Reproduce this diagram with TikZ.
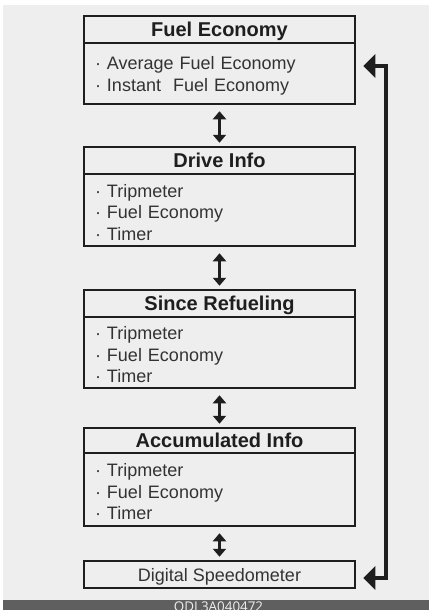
\documentclass[tikz,border=0pt]{standalone}
\usepackage{fontspec}
\setmainfont{Liberation Sans}
\newfontfamily\codigofont{Open Sans}
\usetikzlibrary{arrows.meta}
\definecolor{fundo}{HTML}{EEEEEE}
\definecolor{faixa}{HTML}{5F5F5F}
\definecolor{traco}{HTML}{1E1E1E}
\definecolor{texto}{HTML}{333333}

\begin{document}
\begin{tikzpicture}[x=1pt,y=-1pt,
  titulo/.style={draw=traco, line width=2.5pt, minimum width=271pt, inner sep=0pt,
    font=\bfseries\fontsize{20}{24}\selectfont, text=traco, text height=14.5pt, text depth=0pt},
  itens/.style={draw=traco, line width=2.5pt, minimum width=271pt, inner xsep=11pt,
    inner ysep=0pt, text width=249pt, align=left, text=texto,
    font=\fontsize{18}{21.5}\selectfont, execute at begin node={\rule{0pt}{18pt}}},
  seta/.style={draw=traco, line width=3pt, shorten <=6pt, shorten >=3pt,
    {Triangle[width=13pt,length=8pt]}-{Triangle[width=13pt,length=8pt]}},
  retorno/.style={draw=traco, line width=4pt, line join=miter,
    {Triangle[width=23pt,length=12pt]}-{Triangle[width=23pt,length=12pt]}}]
  % Moldura: fundo cinza claro e faixa escura com o codigo.
  \useasboundingbox (0,0) rectangle (429,610);
  \fill[fundo] (3,5) rectangle (429,600);
  \fill[faixa] (3,600) rectangle (429,610);
  \begin{scope}
    \clip (3,600) rectangle (429,610);
    \node[font=\codigofont\fontsize{13.4}{16}\selectfont, text=fundo, anchor=base,
      inner sep=0pt] (codigo) at (218.5,611.5) {ODL3A040472};
  \end{scope}

  % Caixas: titulo em negrito e lista de itens por baixo.
  \node[titulo, minimum height=27pt] (fe) at (219.5,29.5) {Fuel Economy};
  \node[itens, minimum height=61pt] (feb) at (219.5,73.5)
    {· Average Fuel Economy\\· Instant\ \ Fuel Economy};

  \node[titulo, minimum height=27pt] (di) at (219.5,160.5) {Drive Info};
  \node[itens, minimum height=72pt] (dib) at (219.5,210)
    {· Tripmeter\\· Fuel Economy\\· Timer};

  \node[titulo, minimum height=27pt] (sr) at (219.5,303.5) {Since Refueling};
  \node[itens, minimum height=71pt] (srb) at (219.5,352.5)
    {· Tripmeter\\· Fuel Economy\\· Timer};

  \node[titulo, minimum height=25pt] (ai) at (219.5,440.5) {Accumulated Info};
  \node[itens, minimum height=73pt] (aib) at (219.5,489.5)
    {· Tripmeter\\· Fuel Economy\\· Timer};

  \node[titulo, minimum height=27pt, font=\fontsize{18}{22}\selectfont, text=texto,
    text height=13pt] (sd) at (219.5,574.5) {Digital Speedometer};

  % Setas duplas entre as caixas.
  \draw[seta] (feb) -- (di);
  \draw[seta] (dib) -- (sr);
  \draw[seta] (srb) -- (ai);
  \draw[seta] (aib) -- (sd);

  % Retorno do velocimetro ao consumo, pelo lado direito.
  \draw[retorno] ([xshift=7pt,yshift=-3.5pt]sd.east) -- ++(23pt,0pt)
    |- ([xshift=7pt,yshift=7.5pt]feb.east);
\end{tikzpicture}
\end{document}
